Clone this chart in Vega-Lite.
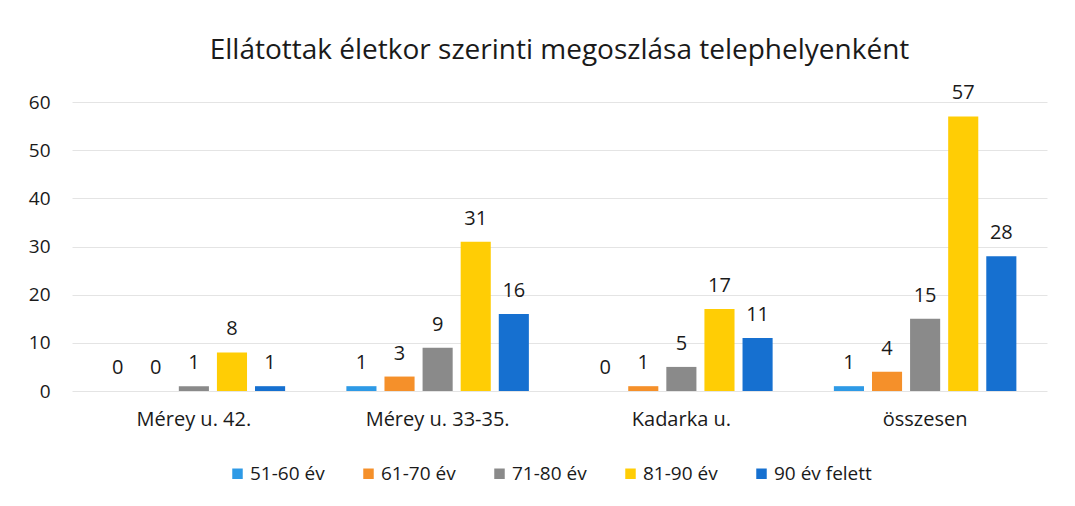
{
  "$schema": "https://vega.github.io/schema/vega-lite/v6.json",
  "autosize": {"type": "none"},
  "width": 975,
  "height": 289,
  "padding": {"left": 72, "top": 102, "right": 28, "bottom": 115},
  "background": "white",
  "title": {
    "text": "Ellátottak életkor szerinti megoszlása telephelyenként",
    "font": "Open Sans",
    "fontSize": 28,
    "fontWeight": "normal",
    "color": "#1a1a1a",
    "offset": 18,
    "anchor": "middle"
  },
  "config": {
    "view": {"stroke": null},
    "font": "Open Sans"
  },
  "data": {
    "values": [
      {"site": "Mérey u. 42.", "age": "51-60 év", "n": 0},
      {"site": "Mérey u. 42.", "age": "61-70 év", "n": 0},
      {"site": "Mérey u. 42.", "age": "71-80 év", "n": 1},
      {"site": "Mérey u. 42.", "age": "81-90 év", "n": 8},
      {"site": "Mérey u. 42.", "age": "90 év felett", "n": 1},
      {"site": "Mérey u. 33-35.", "age": "51-60 év", "n": 1},
      {"site": "Mérey u. 33-35.", "age": "61-70 év", "n": 3},
      {"site": "Mérey u. 33-35.", "age": "71-80 év", "n": 9},
      {"site": "Mérey u. 33-35.", "age": "81-90 év", "n": 31},
      {"site": "Mérey u. 33-35.", "age": "90 év felett", "n": 16},
      {"site": "Kadarka u.", "age": "51-60 év", "n": 0},
      {"site": "Kadarka u.", "age": "61-70 év", "n": 1},
      {"site": "Kadarka u.", "age": "71-80 év", "n": 5},
      {"site": "Kadarka u.", "age": "81-90 év", "n": 17},
      {"site": "Kadarka u.", "age": "90 év felett", "n": 11},
      {"site": "összesen", "age": "51-60 év", "n": 1},
      {"site": "összesen", "age": "61-70 év", "n": 4},
      {"site": "összesen", "age": "71-80 év", "n": 15},
      {"site": "összesen", "age": "81-90 év", "n": 57},
      {"site": "összesen", "age": "90 év felett", "n": 28}
    ]
  },
  "encoding": {
    "x": {
      "field": "site", "type": "nominal",
      "sort": ["Mérey u. 42.", "Mérey u. 33-35.", "Kadarka u.", "összesen"],
      "scale": {"paddingInner": 0.22, "paddingOuter": 0.11},
      "axis": {
        "title": null, "labelAngle": 0, "domain": false, "ticks": false,
        "labelFontSize": 20, "labelColor": "#1a1a1a", "labelPadding": 18
      }
    },
    "xOffset": {
      "field": "age", "type": "nominal",
      "sort": ["51-60 év", "61-70 év", "71-80 év", "81-90 év", "90 év felett"],
      "scale": {"paddingInner": 0.21, "paddingOuter": 0.1}
    },
    "y": {
      "field": "n", "type": "quantitative",
      "scale": {"domain": [0, 60], "nice": false},
      "axis": {
        "title": null, "values": [0, 10, 20, 30, 40, 50, 60],
        "domain": false, "ticks": false, "labelFontSize": 19,
        "labelColor": "#1a1a1a", "labelPadding": 22,
        "gridColor": "#e4e4e4", "gridWidth": 1
      }
    }
  },
  "layer": [
    {
      "mark": {"type": "bar"},
      "encoding": {
        "color": {
          "field": "age", "type": "nominal",
          "sort": ["51-60 év", "61-70 év", "71-80 év", "81-90 év", "90 év felett"],
          "scale": {
            "domain": ["51-60 év", "61-70 év", "71-80 év", "81-90 év", "90 év felett"],
            "range": ["#2e9ae6", "#f5902a", "#8a8a8a", "#ffcd05", "#1670d0"]
          },
          "legend": {
            "title": null, "orient": "none", "direction": "horizontal",
            "legendX": 156, "legendY": 362,
            "symbolType": "square", "symbolSize": 110, "symbolStrokeWidth": 0,
            "labelFontSize": 19, "labelColor": "#1a1a1a", "columnPadding": 34,
            "labelOffset": 3
          }
        }
      }
    },
    {
      "mark": {"type": "text", "dy": -23, "fontSize": 20, "color": "#1a1a1a"},
      "encoding": {
        "text": {"field": "n", "type": "quantitative"}
      }
    }
  ]
}
